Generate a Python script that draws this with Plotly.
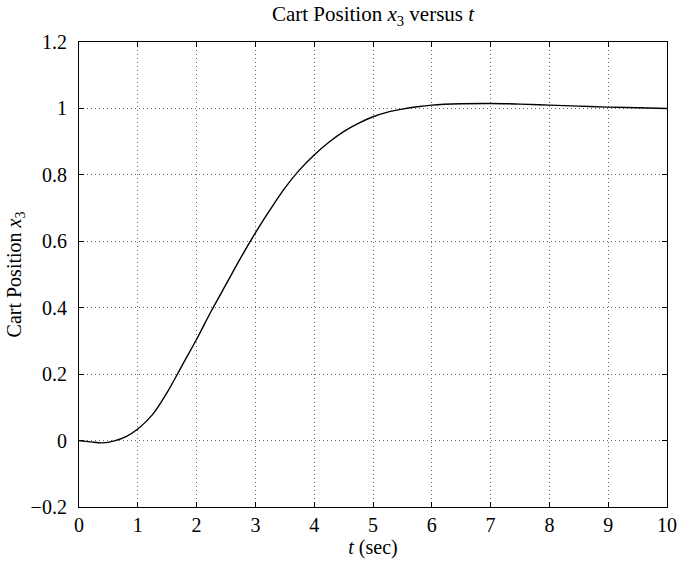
import plotly.graph_objects as go

t_vals = [0, 0.2, 0.4, 0.6, 0.8, 1, 1.25, 1.5, 1.75, 2, 2.25, 2.5, 2.75, 3, 3.25, 3.5,
          3.75, 4, 4.25, 4.5, 4.75, 5, 5.25, 5.5, 5.75, 6, 6.5, 7, 7.5, 8, 8.5, 9, 9.5, 10]
x3_vals = [0, -0.004, -0.007, -0.001, 0.012, 0.035, 0.078, 0.145, 0.225, 0.305, 0.39,
           0.47, 0.55, 0.625, 0.695, 0.76, 0.815, 0.86, 0.898, 0.93, 0.955, 0.975, 0.989,
           0.998, 1.005, 1.01, 1.014, 1.015, 1.013, 1.01, 1.007, 1.004, 1.002, 1.0]
x_ticks = list(range(0, 11))
y_ticks = [-0.2, 0, 0.2, 0.4, 0.6, 0.8, 1, 1.2]
y_tick_text = ["\u22120.2", "0", "0.2", "0.4", "0.6", "0.8", "1", "1.2"]

font_family = "Liberation Serif, Times New Roman, serif"

W, H = 682, 565
ML, MR, MT, MB = 79, 15, 42, 58

fig = go.Figure()
fig.add_trace(go.Scatter(x=t_vals, y=x3_vals, mode="lines",
                         line=dict(color="black", width=1.4, shape="spline", smoothing=1.0),
                         showlegend=False))

axis_common = dict(showline=True, linecolor="black", linewidth=1.2, mirror="ticks",
                   ticks="inside", ticklen=5, tickcolor="black", tickwidth=1,
                   showgrid=True, gridcolor="#666666", gridwidth=1, griddash="1px,3px",
                   zeroline=False, automargin=False,
                   tickfont=dict(family=font_family, size=20, color="black"))

fig.update_layout(
    width=W, height=H,
    margin=dict(l=ML, r=MR, t=MT, b=MB),
    paper_bgcolor="white", plot_bgcolor="white",
    title=dict(text="Cart Position <i>x</i><sub>3</sub> versus <i>t</i>",
               x=(ML + (W - MR)) / 2 / W, xanchor="center",
               y=1 - 14 / H, yanchor="middle",
               font=dict(family=font_family, size=21, color="black")),
    xaxis=dict(range=[0, 10], tickvals=x_ticks, ticklabelstandoff=0,
               title=dict(text="<i>t</i> (sec)", standoff=4,
                          font=dict(family=font_family, size=20, color="black")),
               **axis_common),
    yaxis=dict(range=[-0.2, 1.2], tickvals=y_ticks, ticktext=y_tick_text,
               ticklabelstandoff=7,
               title=dict(text="Cart Position <i>x</i><sub>3</sub>", standoff=3,
                          font=dict(family=font_family, size=20, color="black")),
               **axis_common),
)

fig.write_html("out.html",
               config={"displayModeBar": False},
               post_script="document.body.style.margin='0';document.body.style.overflow='hidden';")
